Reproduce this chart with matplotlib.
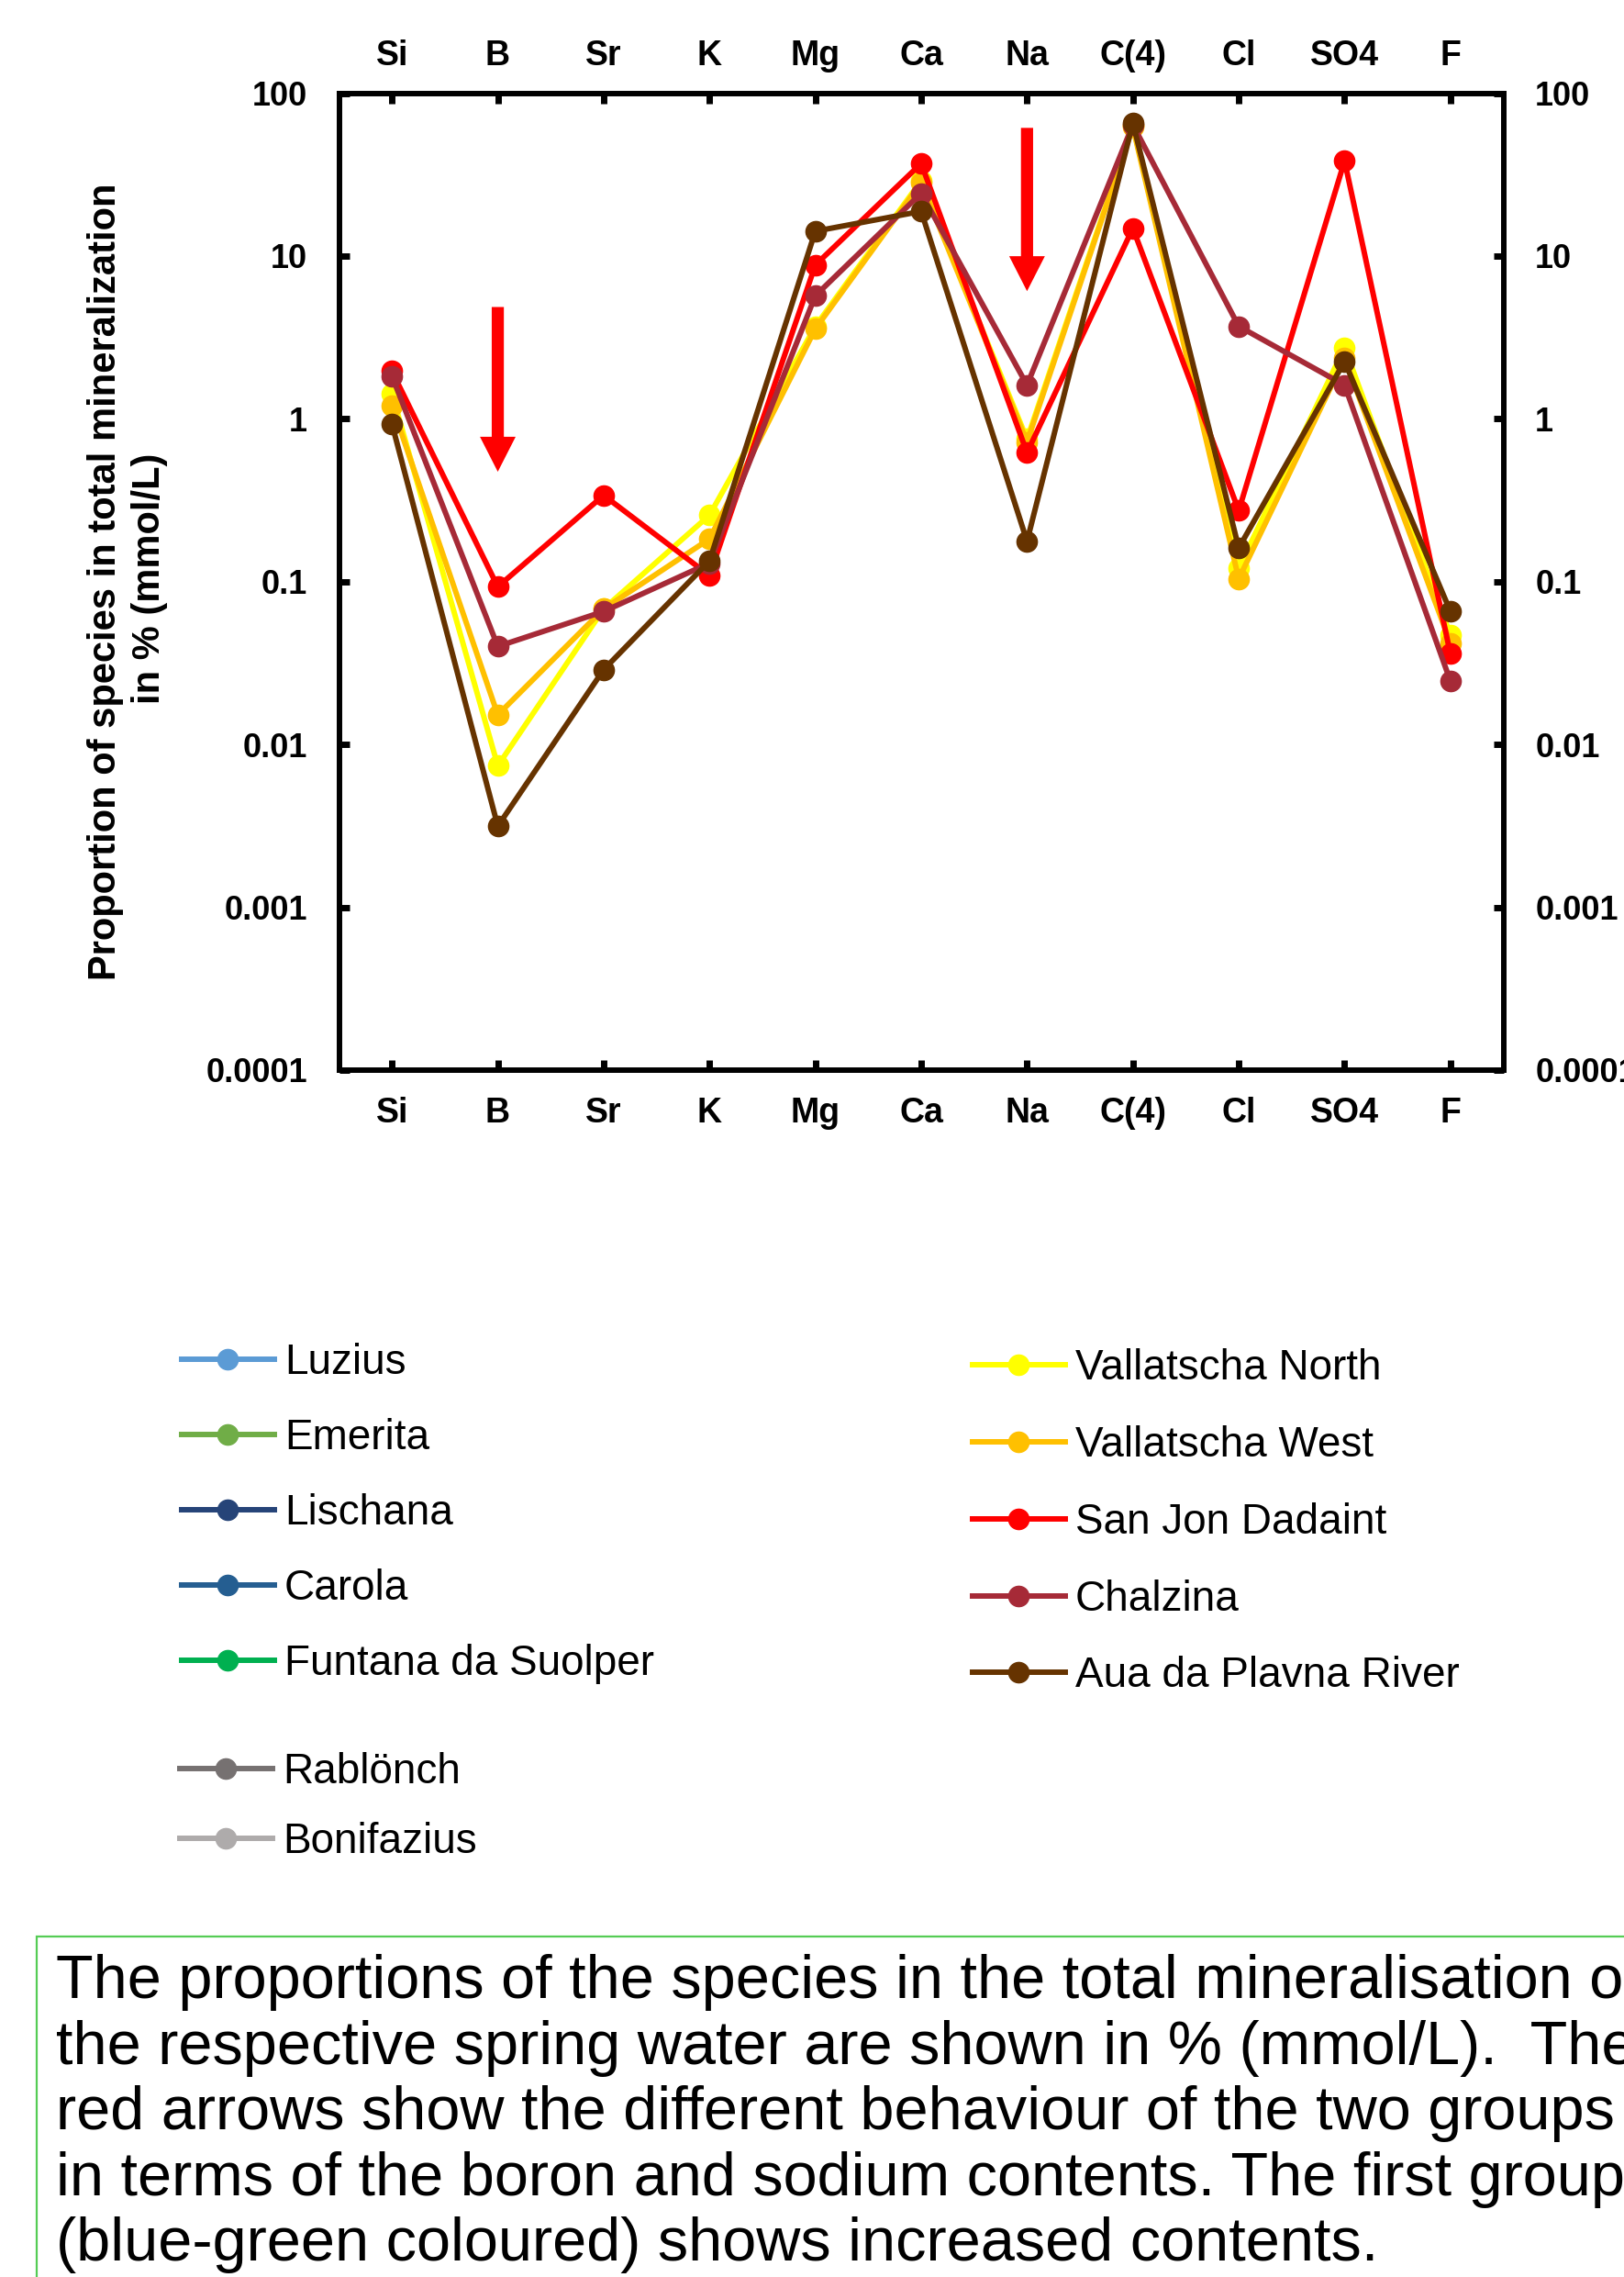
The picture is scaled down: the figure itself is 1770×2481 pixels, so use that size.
import numpy as np
import matplotlib.pyplot as plt
from matplotlib.lines import Line2D
from matplotlib.ticker import NullLocator

plt.rcParams['font.family'] = ['Liberation Sans', 'DejaVu Sans']

W, H = 1770, 2481

species = ["Si", "B", "Sr", "K", "Mg", "Ca", "Na", "C(4)", "Cl", "SO4", "F"]

# proportion of each species in total mineralisation, % (mmol/L)
vallatscha_north = [1.43, 0.0074, 0.068, 0.256, 3.7, 29.0, 0.75, 63.0, 0.121, 2.74, 0.047]
vallatscha_west = [1.21, 0.0152, 0.068, 0.183, 3.57, 28.2, 0.72, 62.0, 0.104, 2.35, 0.042]
san_jon_dadaint = [1.96, 0.093, 0.339, 0.109, 8.8, 37.0, 0.62, 14.8, 0.273, 38.4, 0.036]
chalzina = [1.83, 0.040, 0.0656, 0.130, 5.7, 24.3, 1.61, 64.0, 3.7, 1.61, 0.0245]
aua_da_plavna = [0.93, 0.00315, 0.0288, 0.134, 14.2, 18.8, 0.177, 65.6, 0.161, 2.25, 0.0656]

group2_names = ["Vallatscha North", "Vallatscha West", "San Jon Dadaint", "Chalzina", "Aua da Plavna River"]
group2_values = [vallatscha_north, vallatscha_west, san_jon_dadaint, chalzina, aua_da_plavna]
group2_colors = ["#FFFF00", "#FFC000", "#FF0000", "#A62A37", "#663300"]

# first group: only listed in the legend
group1_names = ["Luzius", "Emerita", "Lischana", "Carola", "Funtana da Suolper"]
group1_colors = ["#5B9BD5", "#70AD47", "#264478", "#255E91", "#00B050"]
other_names = ["Rablönch", "Bonifazius"]
other_colors = ["#767171", "#AEABAB"]

yticks = [1e-4, 1e-3, 1e-2, 1e-1, 1, 10, 100]
ytick_labels = ["0.0001", "0.001", "0.01", "0.1", "1", "10", "100"]

LW = 4.3
MS = 16

fig = plt.figure(figsize=(W / 100, H / 100), dpi=100)
ax = fig.add_axes([369.5 / W, 1 - 1166 / H, (1638.5 - 369.5) / W, (1166 - 101.5) / H])

x = np.arange(len(species))
lines = []
for name, vals, col in zip(group2_names, group2_values, group2_colors):
    ln, = ax.plot(x, vals, '-o', color=col, lw=LW, ms=MS, label=name)
    lines.append(ln)

ax.set_yscale('log')
ax.set_ylim(1e-4, 100)
ax.set_xlim(-0.5, len(species) - 0.5)
ax.set_yticks(yticks, ytick_labels, fontweight='bold')
ax.yaxis.set_minor_locator(NullLocator())
ax.set_xticks(x, species, fontweight='bold')

ax.tick_params(axis='y', which='major', direction='in', length=8, width=5,
               left=True, right=True, labelleft=True, labelright=True,
               labelsize=26, pad=25)
ax.tick_params(axis='x', which='major', direction='in', length=8, width=5,
               top=True, bottom=True, labelsize=27, pad=21)
for sp in ax.spines.values():
    sp.set_linewidth(4.3)

# species names repeated above the plot
sec = ax.secondary_xaxis('top')
sec.set_xticks(x, species, fontweight='bold')
sec.tick_params(length=0, labelsize=27, pad=16)
sec.spines['top'].set_visible(False)

# red arrows at boron and sodium
arrow_style = 'simple,head_length=0.98,head_width=1.0,tail_width=0.34'
for xi, y_tail, y_tip in [(1, 4.86, 0.473), (6, 61.2, 6.08)]:
    ax.annotate('', xy=(xi, y_tip), xytext=(xi, y_tail),
                arrowprops=dict(arrowstyle=arrow_style, color='#FF0000',
                                mutation_scale=28, shrinkA=0, shrinkB=0, lw=0))

# y label, two lines
fig.text(115.5 / W, 1 - 634 / H, "Proportion of species in total mineralization",
         rotation=90, ha='center', va='center', fontsize=30, fontweight='bold')
fig.text(163 / W, 1 - 630 / H, "in % (mmol/L)",
         rotation=90, ha='center', va='center', fontsize=30, fontweight='bold')

# legends
def proxy(col):
    return Line2D([], [], color=col, marker='o', lw=LW, ms=MS)

leg_kw = dict(loc='upper left', frameon=False, fontsize=33, handlelength=2.2,
              handletextpad=0.24, borderpad=0, borderaxespad=0)
fig.legend([proxy(c) for c in group1_colors], group1_names,
           bbox_to_anchor=(198 / W, 1 - 1463 / H), labelspacing=0.83, **leg_kw)
fig.legend([proxy(c) for c in other_colors], other_names,
           bbox_to_anchor=(196 / W, 1 - 1909 / H), labelspacing=0.69, **leg_kw)
fig.legend(lines, group2_names,
           bbox_to_anchor=(1060 / W, 1 - 1469 / H), labelspacing=0.87, **leg_kw)

# caption box
fig.add_artist(plt.Rectangle((40 / W, -0.01), 1.0, (H - 2110) / H + 0.01,
                             transform=fig.transFigure, fill=False,
                             ec='#55CC55', lw=1.6))
caption = [
    "The proportions of the species in the total mineralisation of",
    "the respective spring water are shown in % (mmol/L).  The",
    "red arrows show the different behaviour of the two groups",
    "in terms of the boron and sodium contents. The first group",
    "(blue-green coloured) shows increased contents.",
]
for i, line in enumerate(caption):
    fig.text(61 / W, 1 - (2177 + 71.6 * i) / H, line, fontsize=48,
             ha='left', va='baseline')

fig.savefig('out.png', dpi=100)
